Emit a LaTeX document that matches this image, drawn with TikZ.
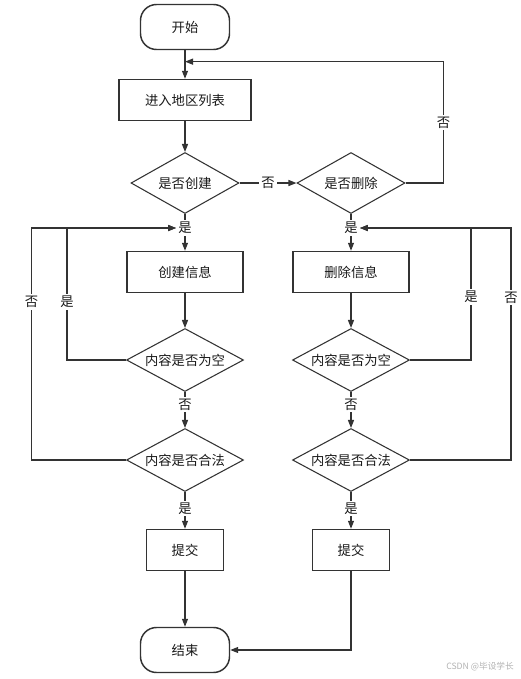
\documentclass[tikz,border=0pt]{standalone}
\usepackage{fontspec}
\setmainfont{Noto Sans CJK SC}
\usetikzlibrary{shapes.geometric,arrows.meta,calc}

\tikzset{
  terminal/.style={draw, rounded corners=12pt, minimum width=66.75pt, minimum height=33.75pt, line width=1.1pt},
  process/.style={draw, minimum height=30.75pt, line width=1.1pt},
  decision/.style={draw, diamond, shape aspect=1.85, inner sep=0pt, line width=0.8pt},
  flow/.style={line width=0.9pt, -{Triangle[length=6pt,width=4.5pt]}},
  tag/.style={fill=white, inner sep=1.5pt},
}

\begin{document}
\begin{tikzpicture}[x=0.75pt,y=-0.75pt,color=black!80,text=black!90,font=\fontsize{10pt}{12pt}\selectfont]
    \useasboundingbox (0,0) rectangle (521,679);
    % main column
    \node[terminal] (start) at (185,27) {开始};
    \node[process, minimum width=99pt] (list) at (185,100) {进入地区列表};
    \node[decision, minimum width=81pt, minimum height=45.75pt] (askC) at (185,183) {是否创建};
    \node[decision, minimum width=81pt, minimum height=45.75pt] (askD) at (351,183) {是否删除};
    \node[tag] (yesC) at (185,228) {是};
    \node[tag] (yesD) at (351,228) {是};
    \node[process, minimum width=87pt] (infoC) at (185,272) {创建信息};
    \node[process, minimum width=87pt] (infoD) at (351,272) {删除信息};
    \node[decision, minimum width=87.75pt, minimum height=47.25pt] (emptyC) at (185,360) {内容是否为空};
    \node[decision, minimum width=87.75pt, minimum height=47.25pt] (emptyD) at (351,360) {内容是否为空};
    \node[decision, minimum width=87.75pt, minimum height=47.25pt] (validC) at (185,460) {内容是否合法};
    \node[decision, minimum width=87.75pt, minimum height=47.25pt] (validD) at (351,460) {内容是否合法};
    \node[process, minimum width=57.75pt] (submitC) at (185,550) {提交};
    \node[process, minimum width=57.75pt] (submitD) at (351,550) {提交};
    \node[terminal] (end) at (185,650) {结束};
    \node[text=black!30, font=\fontsize{6.5pt}{8pt}\selectfont] (mark) at (480,667) {CSDN @毕设学长};
    \coordinate (entry) at ($(start.south)!0.4!(list.north)$);
    %
    \draw[flow] (start) -- (list);
    \draw[flow] (list) -- (askC);
    \draw[flow] (askC) -- node[tag] {否} (askD);
    \draw[flow] (askD.east) -- ++(38,0) |- node[tag,pos=0.25] {否} (entry);
    \draw[line width=0.9pt] (askC) -- (yesC) (askD) -- (yesD);
    \draw[flow] (yesC) -- (infoC);
    \draw[flow] (yesD) -- (infoD);
    \draw[flow] (infoC) -- (emptyC);
    \draw[flow] (infoD) -- (emptyD);
    \draw[flow] (emptyC) -- node[tag,pos=0.35] {否} (validC);
    \draw[flow] (emptyD) -- node[tag,pos=0.35] {否} (validD);
    \draw[flow] (validC) -- node[tag,pos=0.45] {是} (submitC);
    \draw[flow] (validD) -- node[tag,pos=0.45] {是} (submitD);
    % loops back
    \draw[flow] (emptyC.west) -- ++(-59,0) |- node[tag,pos=0.22] {是} (yesC.west);
    \draw[flow] (validC.west) -- ++(-94.5,0) |- node[tag,pos=0.34] {否} (yesC.west);
    \draw[flow] (emptyD.east) -- ++(61,0) |- node[tag,pos=0.24] {是} (yesD.east);
    \draw[flow] (validD.east) -- ++(101,0) |- node[tag,pos=0.35] {否} (yesD.east);
    %
    \draw[flow] (submitC) -- (end);
    \draw[flow] (submitD) |- (end);
\end{tikzpicture}
\end{document}
